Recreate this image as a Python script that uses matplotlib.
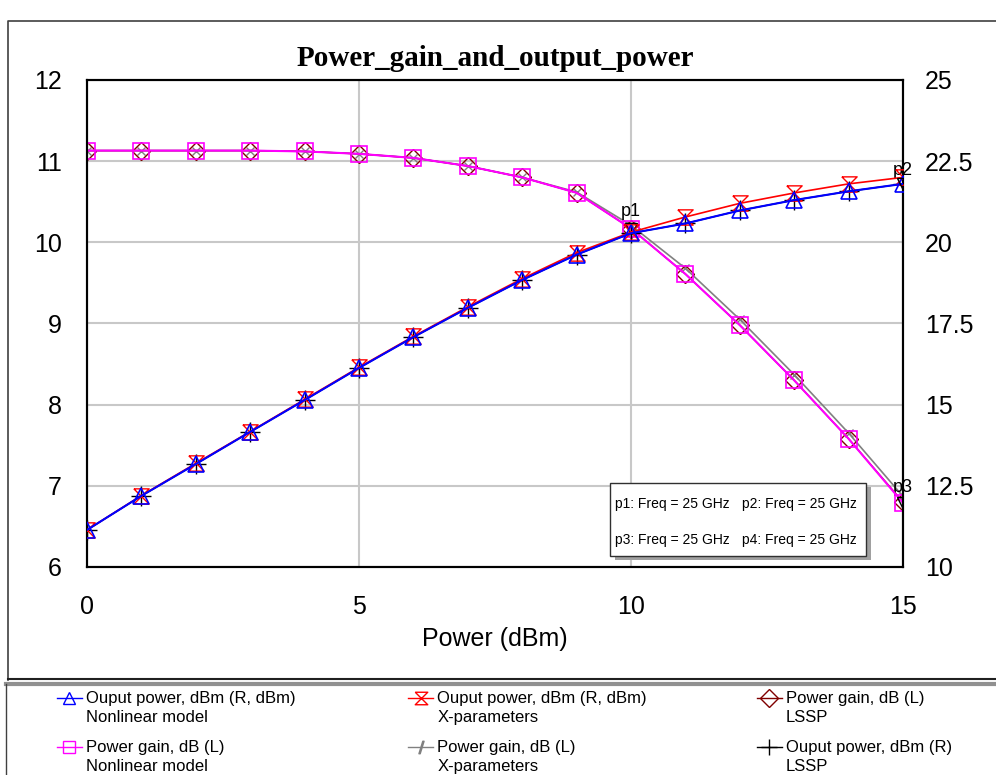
import numpy as np
import matplotlib.pyplot as plt
from matplotlib.lines import Line2D
from matplotlib.patches import Rectangle

plt.rcParams['font.family'] = ['Liberation Sans', 'DejaVu Sans']

# input power sweep (dBm)
power_in = list(range(16))

# power gain, dB (left axis)
gain_nonlinear = [11.13, 11.13, 11.13, 11.13, 11.12, 11.09, 11.04, 10.94, 10.80, 10.61,
                  10.17, 9.61, 8.98, 8.30, 7.58, 6.79]
gain_xparam = [11.13, 11.13, 11.13, 11.13, 11.12, 11.09, 11.04, 10.94, 10.80, 10.62,
               10.21, 9.68, 9.05, 8.37, 7.65, 6.87]
gain_lssp = [11.13, 11.13, 11.13, 11.13, 11.12, 11.09, 11.04, 10.94, 10.80, 10.61,
             10.17, 9.61, 8.98, 8.30, 7.58, 6.80]

# output power, dBm (right axis)
pout_nonlinear = [11.14, 12.19, 13.17, 14.16, 15.14, 16.13, 17.08, 17.98, 18.84, 19.62,
                  20.28, 20.58, 20.98, 21.30, 21.57, 21.80]
pout_xparam = [11.14, 12.20, 13.19, 14.17, 15.16, 16.15, 17.10, 18.01, 18.88, 19.68,
               20.31, 20.78, 21.20, 21.52, 21.80, 22.00]
pout_lssp = [11.14, 12.19, 13.17, 14.16, 15.14, 16.13, 17.08, 17.98, 18.84, 19.62,
             20.28, 20.58, 20.98, 21.30, 21.57, 21.80]

hourglass = [(-1, 1), (1, 1), (-1, -1), (1, -1), (-1, 1)]

fig = plt.figure(figsize=(9.96, 7.75), dpi=100)
ax = fig.add_axes([0.0873, 0.2684, 0.8193, 0.6284])
ax2 = ax.twinx()

# left axis: power gain
ax.plot(power_in, gain_xparam, color='#808080', lw=1.2, marker='x', ms=6, mew=1.0, zorder=3)
ax.plot(power_in, gain_lssp, color='#800000', lw=1.0, marker='D', ms=9, mfc='none', mew=1.0, zorder=4)
ax.plot(power_in, gain_nonlinear, color='#ff00ff', lw=1.5, marker='s', ms=11, mfc='none', mew=1.2, zorder=5)

# right axis: output power
ax2.plot(power_in, pout_lssp, color='black', lw=1.0, marker='+', ms=14, mew=1.0, zorder=3)
ax2.plot(power_in, pout_xparam, color='#ff0000', lw=1.2, marker=hourglass, ms=11, mfc='none', mew=1.0, zorder=4)
ax2.plot(power_in, pout_nonlinear, color='#0000ff', lw=1.5, marker='^', ms=11, mfc='none', mew=1.2, zorder=5)

# marker readouts p1..p3
ax.plot(10, gain_nonlinear[10], marker='v', ms=9, mfc='none', mec='black', zorder=6)
ax.text(10, gain_nonlinear[10] + 0.1, 'p1', fontsize=13, ha='center', va='bottom')
ax2.plot(15, pout_nonlinear[15], marker='v', ms=9, mfc='none', mec='black', zorder=6)
ax2.text(15, pout_nonlinear[15] + 0.15, 'p2', fontsize=13, ha='center', va='bottom')
ax.plot(15, gain_nonlinear[15], marker='v', ms=9, mfc='none', mec='black', zorder=6)
ax.text(15, gain_nonlinear[15] + 0.08, 'p3', fontsize=13, ha='center', va='bottom')

ax.set_xlim(0, 15)
ax.set_ylim(6, 12)
ax2.set_ylim(10, 25)
ax.set_xticks([0, 5, 10, 15])
ax.set_yticks(range(6, 13))
ax2.set_yticks([10, 12.5, 15, 17.5, 20, 22.5, 25])
ax2.set_yticklabels(['10', '12.5', '15', '17.5', '20', '22.5', '25'])
ax.grid(True, color='#c8c8c8', lw=1.5)
ax.set_axisbelow(True)
for a in (ax, ax2):
    a.tick_params(length=0, labelsize=18)
    for s in a.spines.values():
        s.set_linewidth(1.5)
ax.tick_params(axis='y', pad=18)
ax.tick_params(axis='x', pad=20)
ax2.tick_params(pad=16)
ax.set_xlabel('Power (dBm)', fontsize=18, labelpad=6)
ax.set_title('Power_gain_and_output_power', fontsize=21, fontweight='bold',
             family='Liberation Serif', pad=10)

# marker info box with shadow
fig.patches.append(Rectangle((0.617, 0.277), 0.257, 0.094, transform=fig.transFigure,
                             facecolor='#a0a0a0', edgecolor='none', zorder=8))
fig.patches.append(Rectangle((0.6125, 0.2825), 0.257, 0.094, transform=fig.transFigure,
                             facecolor='white', edgecolor='#303030', lw=1.0, zorder=9))
fig.text(0.617, 0.350, 'p1: Freq = 25 GHz', fontsize=10, va='center', zorder=10)
fig.text(0.745, 0.350, 'p2: Freq = 25 GHz', fontsize=10, va='center', zorder=10)
fig.text(0.617, 0.303, 'p3: Freq = 25 GHz', fontsize=10, va='center', zorder=10)
fig.text(0.745, 0.303, 'p4: Freq = 25 GHz', fontsize=10, va='center', zorder=10)

# outer frame of the plot window
fig.lines.append(Line2D([0.008, 0.008, 1.0], [0.123, 0.973, 0.973], transform=fig.transFigure,
                        color='#404040', lw=1.2))
fig.lines.append(Line2D([0.008, 1.0], [0.124, 0.124], transform=fig.transFigure,
                        color='#202020', lw=1.5))
fig.lines.append(Line2D([0.006, 1.0], [0.117, 0.117], transform=fig.transFigure,
                        color='#909090', lw=3))
fig.lines.append(Line2D([0.006, 0.006], [0.0, 0.117], transform=fig.transFigure,
                        color='#404040', lw=1.0))

# legend drawn below the plot
entries = [
    ('#0000ff', '^', 'Ouput power, dBm (R, dBm)', 'Nonlinear model'),
    ('#ff0000', hourglass, 'Ouput power, dBm (R, dBm)', 'X-parameters'),
    ('#800000', 'D', 'Power gain, dB (L)', 'LSSP'),
    ('#ff00ff', 's', 'Power gain, dB (L)', 'Nonlinear model'),
    ('#808080', '$/$', 'Power gain, dB (L)', 'X-parameters'),
    ('black', '+', 'Ouput power, dBm (R)', 'LSSP'),
]
col_x = [0.057, 0.410, 0.760]
row_y = [0.099, 0.036]
for i, (c, m, l1, l2) in enumerate(entries):
    x0 = col_x[i % 3]
    y0 = row_y[i // 3]
    fig.lines.append(Line2D([x0, x0 + 0.025], [y0, y0], transform=fig.transFigure, color=c, lw=1.0))
    fig.lines.append(Line2D([x0 + 0.0125], [y0], transform=fig.transFigure, color=c, marker=m,
                            ms=9 if m != '+' else 12, mfc='none', mew=1.0))
    fig.text(x0 + 0.029, y0, l1, fontsize=12, va='center')
    fig.text(x0 + 0.029, y0 - 0.0245, l2, fontsize=12, va='center')

fig.savefig('out.png', dpi=100)
